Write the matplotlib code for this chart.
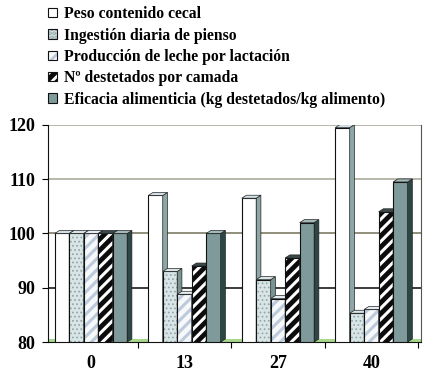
import matplotlib.pyplot as plt
from matplotlib.patches import Patch, Polygon, Rectangle

# data
GROUPS = ["0", "13", "27", "40"]
SERIES = [
    "Peso contenido cecal",
    "Ingestión diaria de pienso",
    "Producción de leche por lactación",
    "Nº destetados por camada",
    "Eficacia alimenticia (kg destetados/kg alimento)",
]
peso = [100, 107, 106.5, 119.5]
ingestion = [100, 93, 91.5, 85.3]
produccion = [100, 88.8, 88, 86]
destetados = [100, 94, 95.5, 104]
eficacia = [100, 100, 102, 109.5]
VALUES = [peso, ingestion, produccion, destetados, eficacia]
GRID_VALUES = [90, 100, 110, 120]

# styles: face, hatch, hatch colour, side face, top face
STYLES = [
    dict(face="#ffffff", hatch=None, hcol="#ffffff", side="#8ea6a6", top="#d4e0e8"),
    dict(face="#d8e4e6", hatch="....", hcol="#8fa6a8", side="#7a9494", top="#d8e4e6"),
    dict(face="#f6f8fa", hatch="///", hcol="#bccadc", side="#b8c8d4", top="#e4ecf2"),
    dict(face="#0c0c0c", hatch="///", hcol="#ffffff", side="#1a2a2a", top="#3a4a4a"),
    dict(face="#7e9a9a", hatch=None, hcol="#7e9a9a", side="#2c4646", top="#a4baba"),
]
GRID_COLORS = ["#1a1a1a", "#7c7c64", "#aaaa9c", "#aaaa9c"]

FONT = "Liberation Serif"
BAR_W = 0.155
DX, DY = 0.05, 0.55


def front(ax, x, v, st, z):
    rect = Rectangle((x, 80), BAR_W, v - 80, facecolor=st["face"], edgecolor=st["hcol"],
                     linewidth=0, hatch=st["hatch"], zorder=z)
    if hasattr(rect, "set_hatch_linewidth"):
        rect.set_hatch_linewidth(2.2 if st["hatch"] == "///" else 0.7)
    ax.add_patch(rect)
    ax.add_patch(Rectangle((x, 80), BAR_W, v - 80, fill=False, edgecolor="#111111",
                           linewidth=0.8, zorder=z))


def main():
    plt.rcParams["hatch.linewidth"] = 2.0
    fig = plt.figure(figsize=(4.30, 3.73), dpi=100)
    ax = fig.add_axes([0.1116, 0.0831, 0.979 - 0.1116, 0.665 - 0.0831])

    ax.set_xlim(-0.46, 3.53)
    ax.set_ylim(80, 120)

    for val, col in zip(GRID_VALUES, GRID_COLORS):
        ax.axhline(val, color=col, linewidth=1.2, zorder=1)
    ax.axhspan(80, 80.6, color="#a8d88c", zorder=1.5, linewidth=0)

    for g in range(len(GROUPS)):
        for i, (vals, st) in enumerate(zip(VALUES, STYLES)):
            v = vals[g]
            x = g + (i - 2.5) * BAR_W
            z = 3 + i * 0.1
            front(ax, x, v, st, z)
            side = Polygon([(x + BAR_W, 80), (x + BAR_W + DX, 80 + DY),
                            (x + BAR_W + DX, v + DY), (x + BAR_W, v)],
                           facecolor=st["side"], edgecolor="#222222", linewidth=0.5, zorder=z)
            top = Polygon([(x, v), (x + BAR_W, v), (x + BAR_W + DX, v + DY), (x + DX, v + DY)],
                          facecolor=st["top"], edgecolor="#222222", linewidth=0.5, zorder=z)
            ax.add_patch(side)
            ax.add_patch(top)

    ax.set_xticks(range(len(GROUPS)))
    ax.set_xticklabels(GROUPS)
    ax.set_xticks([0.5, 1.5, 2.5, 3.5], minor=True)
    ax.tick_params(axis="x", which="major", length=0, pad=9)
    ax.tick_params(axis="x", which="minor", length=4, width=0.8, direction="out")
    ax.set_yticks([80, 90, 100, 110, 120])
    ax.tick_params(axis="y", length=4, width=0.8, pad=5)
    for lab in ax.get_xticklabels() + ax.get_yticklabels():
        lab.set_fontfamily(FONT)
        lab.set_fontweight("bold")
        lab.set_fontsize(13)

    ax.spines["top"].set_visible(False)
    ax.spines["right"].set_color("#555555")
    ax.spines["left"].set_color("#111111")
    ax.spines["bottom"].set_color("#111111")

    handles = []
    for st in STYLES:
        hp = Patch(facecolor=st["face"], edgecolor=st["hcol"], hatch=st["hatch"], linewidth=0)
        op = Patch(fill=False, edgecolor="#111111", linewidth=0.8)
        handles.append((hp, op))
    fig.legend(handles, SERIES, loc="upper left", bbox_to_anchor=(0.098, 1.0),
               frameon=False, handlelength=0.52, handleheight=0.52, handletextpad=0.45,
               labelspacing=0.34, borderaxespad=0,
               prop={"family": FONT, "weight": "bold", "size": 11.3})

    fig.savefig("out.png", dpi=100)
    plt.close(fig)


if __name__ == "__main__":
    main()
